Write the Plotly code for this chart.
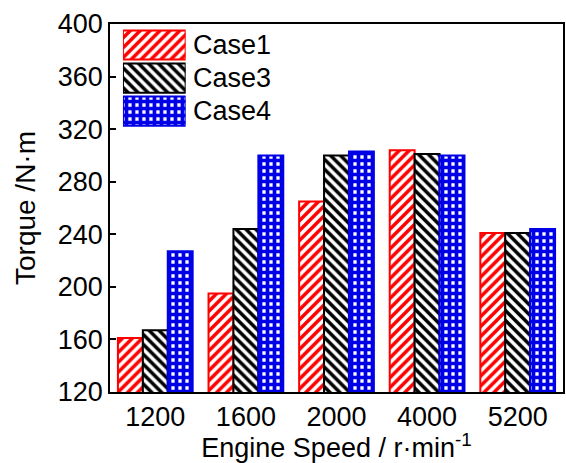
import plotly.graph_objects as go

speeds = ["1200", "1600", "2000", "4000", "5200"]
case_names = ["Case1", "Case3", "Case4"]
case1 = [161, 195, 265, 304, 241]
case3 = [167, 244, 300, 301, 241]
case4 = [227, 300, 303, 300, 244]
y_ticks = [120, 160, 200, 240, 280, 320, 360, 400]

RED = "#FF0000"
BLK = "#000000"
BLU = "#0000E6"
FONT = "Liberation Sans, Arial, sans-serif"

styles = [
    dict(color="white", line=dict(color=RED, width=2),
         pattern=dict(shape="/", fgcolor=RED, bgcolor="white", fgopacity=1, size=7, solidity=0.5)),
    dict(color="white", line=dict(color=BLK, width=2),
         pattern=dict(shape="\\", fgcolor=BLK, bgcolor="white", fgopacity=1, size=7, solidity=0.5)),
    dict(color="white", line=dict(color=BLU, width=2),
         pattern=dict(shape="+", fgcolor=BLU, bgcolor="white", fgopacity=1, size=7, solidity=0.78)),
]

fig = go.Figure()
for name, vals, st in zip(case_names, [case1, case3, case4], styles):
    fig.add_trace(go.Bar(x=speeds, y=vals, name=name, marker=st, showlegend=False))

# custom legend swatches drawn as horizontal bars on an overlay axis
for i, (name, st) in enumerate(zip(case_names, styles)):
    fig.add_trace(go.Bar(x=[1], y=[name], orientation="h", marker=st, width=0.88,
                         xaxis="x2", yaxis="y2", showlegend=False, hoverinfo="skip"))
    fig.add_annotation(x=1, y=name, xref="x2", yref="y2", text=name, showarrow=False,
                       xanchor="left", yanchor="middle", xshift=5,
                       font=dict(family=FONT, size=27, color="black"))

fig.update_layout(
    width=566, height=463,
    margin=dict(l=110, r=1, t=24, b=71),
    paper_bgcolor="white", plot_bgcolor="white",
    barmode="group", bargap=0.175, bargroupgap=0,
    font=dict(family=FONT, size=27, color="black"),
    xaxis=dict(type="category", showline=True, linecolor="black", linewidth=1.5, mirror=True,
               ticks="", showgrid=False, tickfont=dict(size=27),
               title=dict(text="Engine Speed / r·min<sup>-1</sup>", font=dict(size=27), standoff=4)),
    yaxis=dict(range=[120, 400], tickvals=y_ticks, showline=True, linecolor="black", linewidth=1.5,
               mirror=True, ticks="inside", ticklen=6, tickwidth=1.5, tickcolor="black",
               showgrid=False, zeroline=False, tickfont=dict(size=27),
               title=dict(text="Torque /N·m", font=dict(size=28), standoff=14)),
    xaxis2=dict(domain=[0.0286, 0.167], range=[0, 1], anchor="y2", visible=False, fixedrange=True),
    yaxis2=dict(domain=[0.717, 0.989], anchor="x2", visible=False, autorange="reversed",
                type="category", fixedrange=True),
    showlegend=False,
)

fig.write_html("out.html")
